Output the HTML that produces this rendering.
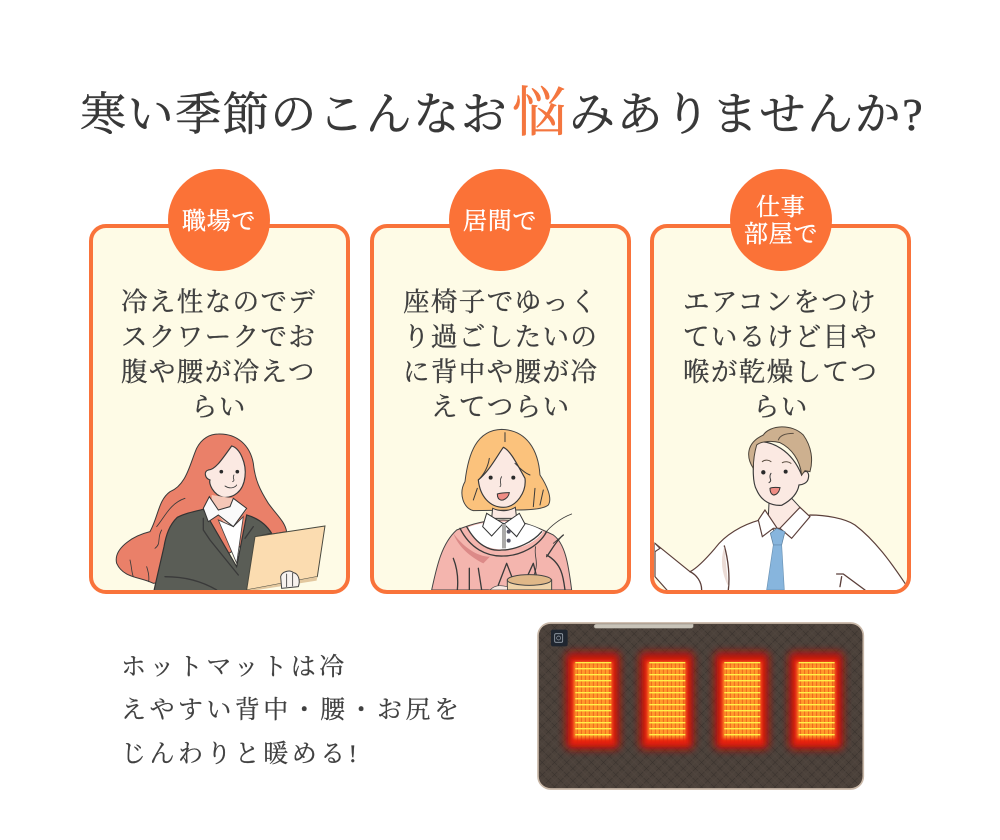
<!DOCTYPE html>
<html lang="ja"><head><meta charset="utf-8"><style>
html,body{margin:0;padding:0;background:#fff}
svg{display:block}
text{font-family:"Liberation Serif","Noto Serif CJK JP","Noto Serif CJK SC",serif}
.t{font-size:26.5px;fill:#3f3f3f;stroke:#3f3f3f;stroke-width:.35;letter-spacing:1.4px}
.b{font-size:24px;fill:#fff;stroke:#fff;stroke-width:.4;letter-spacing:.7px}
.s{font-size:25px;fill:#404040;stroke:#404040;stroke-width:.25;letter-spacing:3.45px}
.h{font-size:46px;fill:#383838;stroke:#383838;stroke-width:.5;letter-spacing:1.6px}
.l{fill:none;stroke:#3a3a3a;stroke-width:4;stroke-linecap:round;stroke-linejoin:round}
</style></head><body>
<svg width="1000" height="840" viewBox="0 0 1000 840" xmlns="http://www.w3.org/2000/svg">
<defs>
<clipPath id="c1"><rect x="93" y="228" width="253" height="362" rx="13"/></clipPath>
<clipPath id="c2"><rect x="374" y="228" width="253" height="362" rx="13"/></clipPath>
<clipPath id="c3"><rect x="654" y="228" width="253" height="362" rx="13"/></clipPath>
<filter id="b1" x="-40%" y="-40%" width="180%" height="180%"><feGaussianBlur stdDeviation="12"/></filter>
<filter id="b2" x="-40%" y="-40%" width="180%" height="180%"><feGaussianBlur stdDeviation="7"/></filter>
<filter id="b3" x="-40%" y="-40%" width="180%" height="180%"><feGaussianBlur stdDeviation="5"/></filter>
<pattern id="q" width="26" height="26" patternUnits="userSpaceOnUse" patternTransform="rotate(45)">
<rect width="26" height="26" fill="#4b413a"/><path d="M0 0H26M0 0V26" stroke="#37302c" stroke-width="3"/><path d="M13 0V26M0 13H26" stroke="#51463f" stroke-width="2"/>
</pattern>
<g id="h">
<rect x="106" y="110" width="164" height="294" rx="16" fill="#b8130b" filter="url(#b1)"/>
<rect x="122" y="132" width="132" height="258" fill="#e9200c" filter="url(#b2)"/>
<rect x="132" y="142" width="112" height="228" fill="#ff9a2c" filter="url(#b3)"/>
<path d="M142 140V388M154 140V388M166 140V388M178 140V388M190 140V388M202 140V388M214 140V388M226 140V388M238 140V388" stroke="#d9230f" stroke-width="2.5" opacity=".5"/>
<path d="M136 143H244M136 161H244M136 179H244M136 197H244M136 215H244M136 233H244M136 251H244M136 269H244M136 287H244M136 305H244M136 323H244M136 341H244M136 359H244" fill="none" stroke="#fff04a" stroke-width="4"/>
</g>
</defs>

<text class="h" x="80" y="130">寒い季節のこんなお</text>
<text font-size="54" fill="#f4763f" stroke="#f4763f" stroke-width=".6" x="512" y="131">悩</text>
<text class="h" x="569" y="130">みありませんか?</text>

<rect x="91" y="226" width="257" height="366" rx="15" fill="#fefbe6" stroke="#f9733a" stroke-width="4"/>
<rect x="372" y="226" width="257" height="366" rx="15" fill="#fefbe6" stroke="#f9733a" stroke-width="4"/>
<rect x="652" y="226" width="257" height="366" rx="15" fill="#fefbe6" stroke="#f9733a" stroke-width="4"/>
<circle cx="219" cy="220" r="51" fill="#fb7237"/>
<circle cx="500" cy="220" r="51" fill="#fb7237"/>
<circle cx="781" cy="220" r="51" fill="#fb7237"/>
<text class="b" x="182" y="229">職場で</text>
<text class="b" x="463" y="229">居間で</text>
<text class="b" x="756" y="215">仕事</text>
<text class="b" x="744" y="242">部屋で</text>

<text class="t" x="121" y="311">冷え性なのでデ</text>
<text class="t" x="121" y="346">スクワークでお</text>
<text class="t" x="121" y="381">腹や腰が冷えつ</text>
<text class="t" x="191" y="416">らい</text>

<text class="t" x="403" y="311">座椅子でゆっく</text>
<text class="t" x="403" y="346">り過ごしたいの</text>
<text class="t" x="403" y="381">に背中や腰が冷</text>
<text class="t" x="431" y="416">えてつらい</text>

<text class="t" x="683" y="311">エアコンをつけ</text>
<text class="t" x="683" y="346">ているけど目や</text>
<text class="t" x="683" y="381">喉が乾燥してつ</text>
<text class="t" x="753" y="416">らい</text>

<!-- person 1 -->
<g clip-path="url(#c1)"><g transform="translate(90,420) scale(.3333)">
<path d="M385 42C440 40 480 75 490 130C495 180 510 210 535 250C560 285 585 305 590 335L500 350L300 470L190 490C150 470 100 475 80 430C70 390 120 350 180 335C205 290 205 240 240 215C290 195 300 130 320 85C335 55 360 42 385 42Z" fill="#ea8069" stroke="#3a3a3a" stroke-width="3"/>
<path class="l" style="stroke-width:2.5" d="M200 320C225 290 240 250 285 235M120 420C125 440 125 460 130 470M170 440C175 455 178 470 176 485M215 330C200 355 215 370 195 385"/>
<path d="M425 78C450 85 470 130 465 170C460 215 430 235 400 232C370 225 355 190 360 180C345 175 340 155 355 150C375 150 395 120 425 78Z" fill="#fbe9e2" stroke="#3a3a3a" stroke-width="3.5"/>
<path d="M365 225L365 260L420 330L470 270L430 235Z" fill="#f5c7b7"/>
<circle cx="394" cy="155" r="5.5" fill="#2a2a2a"/><circle cx="442" cy="155" r="5.5" fill="#2a2a2a"/>
<path class="l" style="stroke-width:2.5" d="M432 165C425 175 438 180 428 185M405 198C420 208 435 203 440 195"/>
<path d="M340 268C310 275 285 280 262 292C238 315 228 345 222 380C212 425 202 465 192 512H470L500 350L545 340C530 315 505 295 470 285L440 440Z" fill="#5a5d56" stroke="#333" stroke-width="3.5"/>
<path d="M385 300L440 430L460 290L430 320Z" fill="#fff" stroke="#444" stroke-width="2.5"/>
<path d="M358 230L340 265L355 305L385 285L430 320L470 265L430 235L420 260L385 270Z" fill="#fafafa" stroke="#333" stroke-width="3"/>
<path class="l" d="M340 295L340 330L360 360L445 465M490 320L465 355M225 470C280 470 330 480 380 510"/>
<path d="M495 350L705 318L682 470L470 510Z" fill="#fbdcb0" stroke="#4a4a40" stroke-width="3"/>
<path d="M470 510L682 470L680 482L470 515Z" fill="#e3c89f"/>
<path d="M572 470C575 455 600 448 610 458C625 460 632 480 625 500L575 505Z" fill="#f7f2ee" stroke="#444" stroke-width="3"/>
<path class="l" style="stroke-width:2.5" d="M590 462V500M608 460V498"/>
</g></g>

<!-- person 2 -->
<g clip-path="url(#c2)"><g transform="translate(370,420) scale(.3333)">
<path d="M260 330C310 310 350 300 400 300C450 300 500 320 550 345C585 370 595 430 605 510H185C200 440 215 370 260 330Z" fill="#f4b5ae" stroke="#444" stroke-width="3"/>
<path d="M295 322C340 300 470 295 520 335C490 375 440 390 390 388C345 385 310 365 295 322Z" fill="#fff"/>
<path class="l" d="M270 325C300 385 350 410 400 408C450 408 505 380 530 335M290 320C320 375 360 395 395 390C440 390 490 365 515 335M250 415C262 445 265 480 262 510M530 410C545 390 560 360 580 345M585 510C580 470 575 430 530 405M298 445V510M325 445L335 510H355M385 495L410 430L435 495M460 495L490 430L500 470"/>
<path d="M250 340C280 380 320 410 360 410L340 430C300 410 265 380 250 340Z" fill="#dc8a88"/>
<path d="M395 28C470 30 505 90 510 165C530 195 548 235 535 255C520 268 470 270 440 270L310 272C280 265 265 220 285 185C295 100 320 30 395 28Z" fill="#fbc27c" stroke="#444" stroke-width="3"/>
<path d="M400 82C420 90 440 130 465 175C470 215 440 262 400 262C360 262 330 230 325 180C360 150 380 110 400 82Z" fill="#fbe9e2" stroke="#3a3a3a" stroke-width="3.5"/>
<path class="l" style="stroke-width:3" d="M405 38V65M325 180C345 160 355 135 358 115M435 130C450 145 465 160 480 165M310 240L322 205M495 205L490 260M520 210L510 255"/>
<circle cx="362" cy="173" r="6" fill="#2a2a2a"/><circle cx="430" cy="173" r="6" fill="#2a2a2a"/>
<path class="l" style="stroke-width:2.5" d="M395 170C385 185 398 195 390 200"/>
<path d="M382 222C395 218 415 218 418 218C415 235 400 242 392 240C385 238 382 230 382 222Z" fill="#ef8c84" stroke="#333" stroke-width="3"/>
<path d="M368 265L365 295L440 295L436 262C415 275 390 275 368 265Z" fill="#fbe9e2" stroke="#3a3a3a" stroke-width="3"/>
<path d="M350 280L338 320L365 348L400 310L440 350L465 312L448 280L402 312Z" fill="#fff" stroke="#333" stroke-width="3"/>
<path d="M396 312H408V385H396Z" fill="#aaa9a8"/>
<circle cx="416" cy="335" r="6" fill="#556"/><circle cx="416" cy="362" r="6" fill="#556"/>
<path class="l" style="stroke-width:2.5" d="M605 282C570 295 540 320 525 340M580 345L550 370M497 380C490 410 510 425 490 470"/>
<path d="M412 480H545V510H412Z" fill="#f0d3a8" stroke="#444" stroke-width="3"/>
<ellipse cx="478" cy="480" rx="66" ry="16" fill="#e0b888" stroke="#444" stroke-width="3"/>
<path d="M360 510C375 495 390 495 412 500V510Z" fill="#fbe9e2" stroke="#444" stroke-width="2"/>
</g></g>

<!-- person 3 -->
<g clip-path="url(#c3)"><g transform="translate(645,420) scale(.3333)">
<path d="M345 300C290 315 240 345 210 385C180 420 155 445 135 455L30 370V470L70 515H790L780 490C740 430 690 360 630 315C600 295 540 285 495 285L400 340Z" fill="#fff" stroke="#5b3f3a" stroke-width="3.5"/>
<path class="l" style="stroke:#5b3f3a" d="M135 455C155 465 170 485 170 510M238 378C250 420 255 470 250 510M575 462H595L660 510M590 470L585 500"/>
<path d="M238 380C225 420 230 460 250 500Z" fill="#ecdcd6"/>
<path d="M30 370L45 385L30 395" fill="#fff" stroke="#5b3f3a" stroke-width="3.5"/>
<path d="M372 250L370 290L400 335L465 262L440 235Z" fill="#fbe9e2" stroke="#3a3a3a" stroke-width="3"/>
<path d="M328 65C380 60 440 90 470 165C480 145 495 155 490 175C488 190 470 195 462 195C458 220 440 240 410 256C380 258 350 245 335 210C320 185 325 130 328 65Z" fill="#fbe9e2" stroke="#3a3a3a" stroke-width="3.5"/>
<path d="M355 45C375 15 440 10 475 45C500 80 505 120 495 155L480 152L470 165C465 120 440 85 405 68C385 62 350 62 335 75C325 110 325 130 325 145C305 115 300 70 355 45Z" fill="#cdb08f" stroke="#4a4238" stroke-width="3"/>
<path class="l" style="stroke-width:3;stroke:#5c4f42" d="M400 60C405 45 425 40 445 40M352 125C360 118 372 120 378 125M412 128C420 123 432 125 438 130"/>
<circle cx="355" cy="157" r="6.5" fill="#2a2a2a"/><circle cx="422" cy="155" r="6" fill="#2a2a2a"/>
<path class="l" style="stroke-width:3" d="M378 160C368 175 385 180 372 188"/>
<path d="M375 205C385 200 400 203 405 203C402 220 392 225 385 225C378 222 375 215 375 205Z" fill="#ef8c84" stroke="#333" stroke-width="3"/>
<path d="M360 270L340 300L352 350L385 325L405 325L440 355L495 290L465 262L400 330Z" fill="#fff" stroke="#5b3f3a" stroke-width="3.5"/>
<path d="M376 340L395 325L420 335L410 375H385Z" fill="#87b5dd" stroke="#5a7d9b" stroke-width="2"/>
<path d="M385 375H410L418 510H365Z" fill="#87b5dd" stroke="#6b93b5" stroke-width="2"/>
</g></g>

<text class="s" x="121" y="675">ホットマットは冷</text>
<text class="s" x="121" y="718">えやすい背中・腰・お尻を</text>
<text class="s" x="121" y="762">じんわりと暖める!</text>

<!-- mat -->
<g transform="translate(530,615) scale(.3333)">
<rect x="24" y="24" width="976" height="498" rx="38" fill="url(#q)" stroke="#c9b8a8" stroke-width="5"/>
<path d="M192 34Q192 28 200 27H490V34Q490 40 480 40H200Q192 40 192 34Z" fill="#c8c3b8" stroke="#8b867d" stroke-width="1.5"/>
<rect x="63" y="44" width="50" height="50" rx="6" fill="#1f2630"/>
<rect x="74" y="56" width="24" height="26" rx="4" fill="none" stroke="#9aa3ad" stroke-width="2.5"/>
<circle cx="86" cy="69" r="6" fill="none" stroke="#9aa3ad" stroke-width="2"/>
<use href="#h"/>
<use href="#h" x="222"/>
<use href="#h" x="447"/>
<use href="#h" x="670"/>
</g>
</svg>
</body></html>
